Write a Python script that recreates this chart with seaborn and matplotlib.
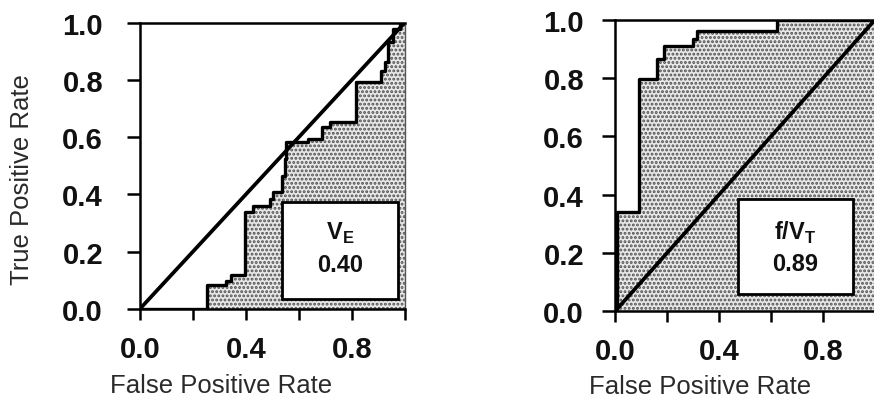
import numpy as np
import matplotlib
matplotlib.use("Agg")
import matplotlib.pyplot as plt
import seaborn as sns
from matplotlib.patches import Rectangle

# ROC step points (steps-post): at each fpr the tpr jumps to the listed value
ve_fpr = [0.0, 0.252, 0.327, 0.346, 0.396, 0.428, 0.491, 0.503, 0.535, 0.547,
          0.553, 0.635, 0.686, 0.717, 0.818, 0.912, 0.925, 0.937, 0.956, 0.981, 1.0]
ve_tpr = [0.0, 0.082, 0.099, 0.117, 0.338, 0.361, 0.385, 0.409, 0.466, 0.524,
          0.583, 0.594, 0.635, 0.653, 0.793, 0.833, 0.862, 0.932, 0.979, 1.0, 1.0]

fvt_fpr = [0.0, 0.006, 0.090, 0.160, 0.186, 0.301, 0.314, 0.622, 1.0]
fvt_tpr = [0.0, 0.340, 0.797, 0.866, 0.912, 0.935, 0.963, 1.0, 1.0]

chance = [0.0, 1.0]

panel_names = ["V$_\\mathregular{E}$", "f/V$_\\mathregular{T}$"]
panel_auc = ["0.40", "0.89"]

y_ticks = [0.0, 0.2, 0.4, 0.6, 0.8, 1.0]
y_ticklabels = ["0.0", "0.2", "0.4", "0.6", "0.8", "1.0"]
x_ticklabels = ["0.0", "", "0.4", "", "0.8", ""]

sns.set_style("ticks")
plt.rcParams["font.family"] = ["Liberation Sans", "DejaVu Sans"]
plt.rcParams["hatch.linewidth"] = 1.4


def draw_panel(ax, fpr, tpr, name, auc, box, text_y, ytick_pad):
    ax.fill_between(fpr, tpr, 0, step="post", facecolor="#e8e8e8",
                    hatch="....", edgecolor="#505050", linewidth=0, zorder=1)
    sns.lineplot(x=fpr, y=tpr, ax=ax, color="black", linewidth=2.4,
                 drawstyle="steps-post", sort=False, estimator=None, zorder=3)
    sns.lineplot(x=chance, y=chance, ax=ax, color="black", linewidth=2.7,
                 sort=False, estimator=None, zorder=3)

    x0, y0, w, h = box
    ax.add_patch(Rectangle((x0, y0), w, h, facecolor="white", edgecolor="black",
                           linewidth=2.0, zorder=4))
    cx = x0 + w / 2
    ax.text(cx, text_y[0], name, ha="center", va="center", fontsize=17,
            fontweight="bold", color="#111111", zorder=5)
    ax.text(cx, text_y[1], auc, ha="center", va="center", fontsize=17,
            fontweight="bold", color="#111111", zorder=5)

    ax.set_xlim(0, 1)
    ax.set_ylim(0, 1)
    ax.set_xticks(y_ticks)
    ax.set_xticklabels(x_ticklabels)
    ax.set_yticks(y_ticks)
    ax.set_yticklabels(y_ticklabels)
    ax.tick_params(axis="both", direction="out", width=1.8, color="black",
                   labelsize=21, labelcolor="#111111")
    ax.tick_params(axis="y", length=9.5, pad=ytick_pad)
    ax.tick_params(axis="x", length=8, pad=11)
    for lab in ax.get_xticklabels() + ax.get_yticklabels():
        lab.set_fontweight("bold")
    for side in ["left", "bottom", "top"]:
        ax.spines[side].set_linewidth(1.8)
        ax.spines[side].set_color("black")
    ax.spines["right"].set_linewidth(1.0)
    ax.spines["right"].set_color("#555555")
    ax.set_xlabel("False Positive Rate", fontsize=18.5, color="#2a2a2a")


fig = plt.figure(figsize=(8.74, 4.10), dpi=100)
ax1 = fig.add_axes([0.160, 0.244, 0.303, 0.698])
ax2 = fig.add_axes([0.704, 0.239, 0.297, 0.710])

draw_panel(ax1, ve_fpr, ve_tpr, panel_names[0], panel_auc[0],
           (0.536, 0.035, 0.438, 0.339), (0.269, 0.157), 17)
draw_panel(ax2, fvt_fpr, fvt_tpr, panel_names[1], panel_auc[1],
           (0.473, 0.058, 0.442, 0.327), (0.271, 0.162), 13)

ax1.set_ylabel("True Positive Rate", fontsize=18.5, color="#2a2a2a")
ax1.yaxis.set_label_coords(-0.40, 0.455)
ax1.xaxis.set_label_coords(0.306, -0.225)
ax2.xaxis.set_label_coords(0.327, -0.215)

fig.savefig("out.png", dpi=100, facecolor="white")
